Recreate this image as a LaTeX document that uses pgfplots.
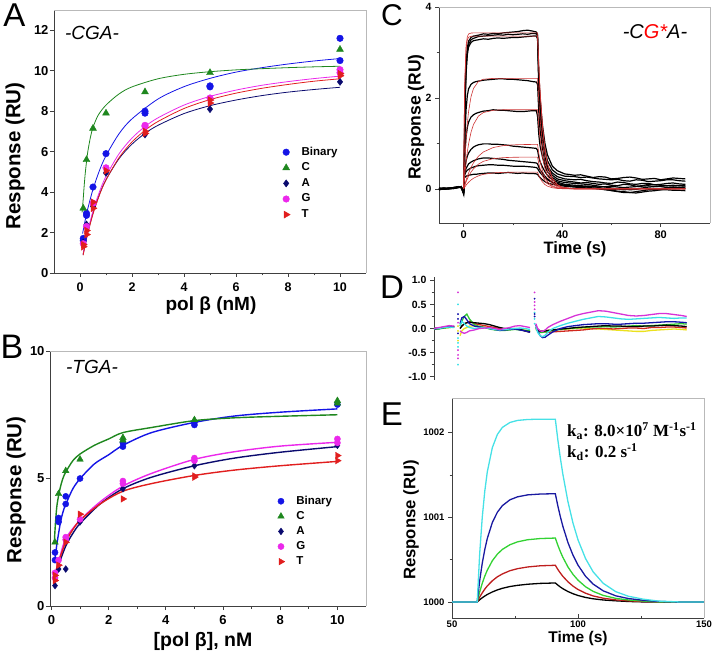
\documentclass[border=0pt]{standalone}
\usepackage{fontspec}
\setmainfont{Liberation Sans}
\newfontfamily\serifb{Liberation Serif}
\usepackage{pgfplots}
\usepackage{pgfplotstable}
\pgfplotsset{compat=1.18}
\definecolor{cBin}{RGB}{20,20,230}
\definecolor{cC}{RGB}{30,135,30}
\definecolor{cA}{RGB}{10,10,110}
\definecolor{cG}{RGB}{235,40,235}
\definecolor{cT}{RGB}{225,30,30}
\definecolor{fitred}{RGB}{205,50,50}
\definecolor{dMag}{RGB}{215,50,215}
\definecolor{dCya}{RGB}{60,225,230}
\definecolor{dBlu}{RGB}{20,20,170}
\definecolor{dGrn}{RGB}{50,200,50}
\definecolor{dRed}{RGB}{210,40,30}
\definecolor{dYel}{RGB}{235,225,30}
\definecolor{eCya}{RGB}{70,225,230}
\definecolor{eBlu}{RGB}{25,25,160}
\definecolor{eGrn}{RGB}{50,210,50}
\definecolor{eRed}{RGB}{190,30,30}
\definecolor{frm}{RGB}{185,185,185}

\pgfplotsset{
  panel/.style={scale only axis, axis x line*=bottom, axis y line*=left,
    tick align=outside, axis line style={black!75, line width=0.8pt},
    every tick/.style={black!75, line width=0.7pt},
    major tick length=4pt, minor tick length=2.5pt,
    /pgf/number format/assume math mode=true,
    /pgf/number format/1000 sep={},
    ticklabel style={font=\bfseries\fontsize{13}{13}\selectfont},
    anchor=south west, clip=false},
  legA/.style={legend cell align=left,
    legend style={draw=none, fill=none, row sep=3.6pt, inner xsep=3pt, inner ysep=2pt,
      font=\bfseries\fontsize{11.5}{13}\selectfont,
      /tikz/every odd column/.append style={column sep=11pt},
      nodes={inner sep=0.5pt, text height=8.5pt, text depth=2.5pt}}},
}

% ---------- Panel C black traces ----------
\pgfplotstableread{
t b1 b2 b3 b4 b5 b6 b7 b8 b9
-10 0.00 -0.02 0.01 0.00 -0.01 0.02 0.00 -0.02 0.01
-8 0.01 0.00 -0.01 0.02 0.00 0.01 -0.01 0.00 0.02
-6 0.02 0.01 0.00 0.01 0.02 0.00 0.01 0.01 0.00
-4 0.03 0.02 0.01 0.03 0.01 0.02 0.03 0.01 0.02
-2 0.05 0.04 0.03 0.05 0.04 0.03 0.05 0.04 0.03
-1 0.03 0.05 0.04 0.02 0.05 0.04 0.03 0.05 0.04
0 -0.10 -0.05 -0.12 -0.08 -0.05 -0.10 -0.06 -0.08 -0.04
0.3 1.00 0.90 0.80 0.60 0.45 0.32 0.30 0.28 0.24
0.6 2.10 1.95 1.80 1.25 0.85 0.48 0.38 0.33 0.26
1 2.75 2.65 2.55 1.75 1.15 0.62 0.45 0.38 0.28
1.5 3.10 3.02 2.95 2.05 1.35 0.72 0.50 0.41 0.29
2 3.25 3.18 3.12 2.20 1.47 0.79 0.55 0.43 0.30
3 3.33 3.28 3.22 2.30 1.58 0.87 0.59 0.46 0.31
4 3.36 3.31 3.26 2.34 1.63 0.92 0.62 0.48 0.32
5 3.37 3.33 3.27 2.36 1.66 0.95 0.64 0.50 0.32
6 3.38 3.35 3.28 2.37 1.68 0.97 0.66 0.51 0.33
8 3.41 3.36 3.30 2.39 1.71 0.99 0.68 0.52 0.34
10 3.40 3.37 3.29 2.40 1.72 0.99 0.68 0.53 0.35
12 3.42 3.38 3.31 2.41 1.74 0.98 0.67 0.53 0.35
14 3.41 3.39 3.32 2.42 1.73 0.98 0.66 0.52 0.34
16 3.43 3.38 3.31 2.42 1.73 0.97 0.65 0.52 0.35
18 3.44 3.40 3.32 2.41 1.72 0.96 0.63 0.51 0.36
20 3.45 3.39 3.33 2.41 1.71 0.94 0.62 0.50 0.35
22 3.46 3.40 3.33 2.40 1.70 0.93 0.61 0.50 0.34
24 3.48 3.41 3.34 2.39 1.70 0.92 0.60 0.50 0.35
26 3.49 3.40 3.35 2.38 1.71 0.91 0.59 0.49 0.34
28 3.47 3.42 3.36 2.36 1.72 0.90 0.58 0.48 0.34
29.5 3.45 3.41 3.36 2.35 1.72 0.89 0.57 0.47 0.33
30 3.40 3.38 3.30 2.30 1.60 0.85 0.55 0.45 0.32
30.5 2.60 2.40 2.20 1.70 1.20 0.70 0.48 0.40 0.28
31 2.00 1.80 1.60 1.30 0.95 0.60 0.42 0.36 0.25
32 1.40 1.20 1.00 0.90 0.70 0.48 0.35 0.30 0.20
33 1.00 0.85 0.70 0.60 0.50 0.38 0.28 0.24 0.16
34 0.75 0.62 0.50 0.45 0.38 0.30 0.22 0.20 0.13
36 0.50 0.42 0.35 0.30 0.25 0.20 0.15 0.14 0.10
38 0.40 0.33 0.27 0.22 0.18 0.15 0.12 0.10 0.08
41 0.33 0.28 0.22 0.18 0.14 0.10 0.08 0.07 0.06
45 0.30 0.27 0.20 0.15 0.12 0.08 0.06 0.05 0.04
47.5 0.31 0.25 0.21 0.13 0.11 0.07 0.05 0.04 0.03
50 0.28 0.26 0.18 0.14 0.10 0.06 0.04 0.06 0.02
52.5 0.25 0.24 0.16 0.12 0.08 0.05 0.02 0.05 0.01
55 0.27 0.22 0.15 0.10 0.06 0.03 0.00 0.04 0.00
57.5 0.26 0.21 0.13 0.11 0.04 -0.01 -0.02 0.05 -0.01
60 0.22 0.20 0.12 0.08 0.02 -0.04 -0.03 0.06 -0.02
62.5 0.23 0.21 0.15 0.07 0.00 -0.06 -0.05 0.04 0.00
65 0.25 0.18 0.14 0.10 -0.02 -0.08 -0.06 0.03 0.01
67.5 0.26 0.17 0.11 0.09 -0.01 -0.08 -0.08 0.04 -0.02
70 0.24 0.20 0.10 0.06 0.00 -0.06 -0.09 0.05 -0.01
72.5 0.21 0.19 0.12 0.07 0.02 -0.04 -0.07 0.06 0.01
75 0.22 0.16 0.12 0.10 0.04 -0.02 -0.05 0.07 0.00
77.5 0.23 0.17 0.09 0.09 0.05 -0.01 -0.04 0.05 -0.01
80 0.20 0.18 0.10 0.08 0.05 0.00 -0.02 0.06 -0.02
82.5 0.22 0.20 0.12 0.07 0.03 0.01 -0.02 0.07 0.01
85 0.24 0.20 0.13 0.06 0.02 0.03 -0.03 0.08 0.00
87.5 0.23 0.18 0.11 0.07 0.03 0.02 -0.03 0.07 0.01
90 0.22 0.17 0.10 0.08 0.04 0.00 -0.04 0.06 0.02
}\Ctab

% ---------- Panel C fits ----------
\pgfplotstableread{
t r1 r2 r3 r4 r5 r6 r7
0 0 0 0 0 0 0 0
0.25 1.595 1.562 0.338 0.173 0.052 0.042 0.022
0.5 2.446 2.396 0.629 0.329 0.102 0.082 0.043
1 3.149 3.084 1.096 0.597 0.194 0.155 0.082
1.5 3.348 3.279 1.441 0.813 0.275 0.219 0.116
2 3.406 3.336 1.699 0.988 0.349 0.275 0.145
3 3.427 3.357 2.029 1.246 0.473 0.370 0.195
4 3.43 3.36 2.209 1.416 0.573 0.442 0.234
6 3.43 3.36 2.364 1.601 0.718 0.544 0.287
8 3.43 3.36 2.411 1.679 0.811 0.606 0.320
12 3.43 3.36 2.43 1.729 0.910 0.665 0.352
16 3.43 3.36 2.43 1.74 0.951 0.687 0.363
20 3.43 3.36 2.43 1.74 0.968 0.695 0.367
25 3.43 3.36 2.43 1.74 0.976 0.699 0.369
30 3.43 3.36 2.43 1.74 0.979 0.70 0.37
30.5 2.740 2.685 1.942 1.390 0.782 0.559 0.296
31 2.188 2.144 1.550 1.110 0.625 0.447 0.236
32 1.396 1.368 0.989 0.708 0.398 0.285 0.151
33 0.888 0.870 0.629 0.451 0.254 0.181 0.096
34 0.566 0.554 0.401 0.287 0.162 0.116 0.061
36 0.230 0.225 0.163 0.117 0.066 0.047 0.025
38 0.093 0.091 0.066 0.047 0.026 0.019 0.010
40 0.038 0.037 0.027 0.019 0.011 0.008 0.004
45 0.003 0.003 0.002 0.002 0.001 0.001 0
50 0 0 0 0 0 0 0
90 0 0 0 0 0 0 0
}\Rtab

% ---------- Panel D residuals ----------
\pgfplotstableread{
t mag cya blu blk grn red yel
-10 0.00 -0.01 0.00 -0.02 0.01 0.00 -0.02
-8 0.02 0.00 0.01 0.00 -0.01 0.01 0.00
-6 0.04 0.02 0.03 0.02 0.01 0.02 0.01
-4 0.06 0.03 0.04 0.03 0.02 0.03 0.02
-2 0.05 0.02 0.03 0.04 0.03 0.04 0.03
-1.5 nan nan nan nan nan nan nan
0.3 -0.05 0.05 0.10 0.00 0.05 0.00 -0.15
1 -0.08 0.15 0.22 0.05 0.15 0.05 -0.05
2 -0.10 0.10 0.25 0.10 0.25 0.10 0.00
3 -0.08 0.05 0.18 0.12 0.30 0.12 0.02
4 -0.05 0.02 0.10 0.13 0.20 0.15 0.05
6 -0.03 0.00 0.05 0.12 0.08 0.10 0.05
8 0.00 0.01 0.03 0.11 0.04 0.08 0.04
10 0.01 0.02 0.02 0.10 0.02 0.06 0.03
12 0.02 0.00 0.00 0.08 -0.01 0.04 0.02
14 0.00 -0.02 -0.02 0.05 -0.03 0.02 0.00
16 -0.02 -0.03 -0.04 0.02 -0.04 0.00 -0.02
18 0.00 -0.02 -0.03 0.00 -0.04 -0.02 -0.03
20 0.02 -0.01 -0.02 0.00 -0.03 -0.01 -0.02
22 0.05 0.00 -0.01 -0.01 -0.02 0.00 -0.01
24 0.06 0.01 -0.03 -0.02 -0.03 -0.02 -0.02
26 0.04 0.00 -0.05 -0.05 -0.04 -0.05 -0.03
28 0.02 -0.02 -0.08 -0.07 -0.05 -0.08 -0.05
28.5 nan nan nan nan nan nan nan
30.3 0.10 0.05 0.08 0.02 0.00 0.03 -0.02
31 0.00 -0.08 -0.05 -0.03 -0.05 -0.02 -0.05
32 -0.05 -0.15 -0.15 -0.06 -0.08 -0.05 -0.06
33 -0.06 -0.17 -0.19 -0.06 -0.08 -0.06 -0.06
34 -0.03 -0.14 -0.18 -0.05 -0.07 -0.07 -0.05
35 0.02 -0.08 -0.14 -0.04 -0.06 -0.08 -0.04
37 0.08 0.00 -0.07 -0.03 -0.04 -0.07 -0.03
40 0.15 0.06 0.00 -0.01 -0.02 -0.06 -0.02
43 0.21 0.11 0.04 0.00 0.00 -0.05 -0.01
46 0.27 0.15 0.06 0.02 0.01 -0.04 0.00
49 0.31 0.19 0.08 0.03 0.02 -0.03 0.01
52 0.34 0.22 0.09 0.04 0.03 -0.01 0.00
55 0.37 0.25 0.10 0.05 0.03 0.00 -0.01
58 0.36 0.24 0.10 0.06 0.04 0.00 -0.02
61 0.33 0.22 0.09 0.05 0.03 -0.01 -0.03
64 0.30 0.20 0.09 0.05 0.04 0.00 -0.04
67 0.27 0.19 0.10 0.04 0.05 0.01 -0.05
70 0.26 0.20 0.11 0.04 0.06 0.01 -0.06
73 0.27 0.21 0.11 0.05 0.05 0.00 -0.06
76 0.29 0.22 0.12 0.05 0.06 0.02 -0.04
79 0.31 0.23 0.13 0.06 0.07 0.02 -0.03
82 0.31 0.22 0.14 0.07 0.08 0.03 -0.02
85 0.29 0.21 0.14 0.06 0.09 0.03 -0.01
88 0.27 0.22 0.13 0.05 0.10 0.02 -0.02
90 0.25 0.22 0.12 0.04 0.09 0.01 -0.03
}\Dtab

% ---------- Panel E simulated curves ----------
\pgfplotstableread{
t bk rd gr bl cy
50 1000 1000 1000 1000 1000
60 1000 1000 1000 1000 1000
61 1000.026 1000.058 1000.119 1000.253 1000.577
62 1000.049 1000.107 1000.219 1000.456 1000.998
63 1000.069 1000.151 1000.304 1000.618 1001.307
64 1000.088 1000.189 1000.375 1000.749 1001.536
66 1000.118 1000.250 1000.486 1000.938 1001.823
68 1000.142 1000.297 1000.565 1001.060 1001.979
70 1000.161 1000.331 1000.621 1001.138 1002.063
73 1000.182 1000.369 1000.676 1001.207 1002.121
76 1000.196 1000.393 1000.710 1001.242 1002.145
80 1000.209 1000.413 1000.735 1001.265 1002.156
85 1000.219 1000.427 1000.749 1001.275 1002.160
91 1000.224 1000.433 1000.755 1001.279 1002.160
92 1000.199 1000.384 1000.670 1001.135 1001.916
93 1000.176 1000.341 1000.594 1001.007 1001.700
94 1000.156 1000.302 1000.527 1000.893 1001.508
96 1000.123 1000.238 1000.414 1000.703 1001.186
98 1000.097 1000.187 1000.326 1000.553 1000.933
100 1000.076 1000.147 1000.257 1000.435 1000.734
103 1000.053 1000.103 1000.179 1000.303 1000.512
106 1000.037 1000.071 1000.125 1000.211 1000.356
110 1000.023 1000.044 1000.077 1000.131 1000.220
115 1000.013 1000.024 1000.042 1000.072 1000.121
120 1000.005 1000.013 1000.023 1000.040 1000.067
126 1000 1000.004 1000.010 1000.019 1000.032
132 1000 1000 1000 1000.005 1000.010
140 1000 1000 1000 1000 1000
150 1000 1000 1000 1000 1000
}\Etab

\begin{document}
\begin{tikzpicture}[x=1pt,y=1pt]
\useasboundingbox (0pt,0pt) rectangle (713pt,-655pt);

% ================= A =================
\begin{axis}[panel, legA, name=axA, at={(54pt,-273pt)}, width=312pt, height=263pt,
  xmin=-1, xmax=11, ymin=0, ymax=13,
  xtick={0,2,4,6,8,10}, minor xtick={1,3,5,7,9},
  ytick={0,2,4,6,8,10,12},
  xticklabel style={yshift=-2pt, font=\bfseries\fontsize{12.5}{12.5}\selectfont},
  yticklabel style={xshift=2pt},
  legend style={at={(0.7228,0.4905)}, anchor=north west}]
\addplot[cBin, line width=0.8pt, smooth, forget plot] coordinates {(0.1,1.95)(0.2,2.61)(0.3,3.18)(0.5,4.14)(0.75,5.07)(1,5.80)(1.5,6.88)(2,7.62)(3,8.60)(4,9.21)(5,9.62)(6,9.93)(7,10.15)(8,10.33)(9,10.48)(10,10.60)};
\addplot[cC, line width=0.8pt, smooth, forget plot] coordinates {(0.08,3.0)(0.12,3.6)(0.16,4.3)(0.2,4.9)(0.25,5.5)(0.3,6.0)(0.4,6.7)(0.5,7.2)(0.7,7.8)(1,8.3)(1.5,8.85)(2,9.2)(3,9.6)(4,9.82)(5,9.95)(6,10.04)(7,10.1)(8,10.15)(9,10.19)(10,10.22)};
\addplot[cA, line width=0.8pt, smooth, forget plot] coordinates {(0.12,0.91)(0.2,1.43)(0.3,2.01)(0.5,2.97)(0.75,3.89)(1,4.61)(1.5,5.65)(2,6.37)(2.5,6.90)(3,7.30)(4,7.88)(5,8.27)(6,8.55)(7,8.77)(8,8.94)(9,9.07)(10,9.18)};
\addplot[cG, line width=0.8pt, smooth, forget plot] coordinates {(0.12,0.93)(0.2,1.47)(0.3,2.06)(0.5,3.06)(0.75,4.02)(1,4.78)(1.5,5.89)(2,6.67)(2.5,7.24)(3,7.67)(4,8.30)(5,8.73)(6,9.04)(7,9.28)(8,9.46)(9,9.61)(10,9.73)};
\addplot[cT, line width=0.8pt, smooth, forget plot] coordinates {(0.12,0.88)(0.2,1.39)(0.3,1.96)(0.5,2.91)(0.75,3.86)(1,4.60)(1.5,5.70)(2,6.48)(2.5,7.05)(3,7.49)(4,8.13)(5,8.57)(6,8.89)(7,9.13)(8,9.32)(9,9.48)(10,9.60)};
\addplot[only marks, mark=*, mark size=3.3pt, cBin] coordinates {(0.125,1.71)(0.125,1.6)(0.25,2.85)(0.25,2.95)(0.5,4.25)(1,5.9)(2.5,7.9)(2.5,8.0)(5,9.2)(5,9.25)(10,11.6)(10,10.5)};
\addplot[only marks, mark=triangle*, mark size=4pt, cC] coordinates {(0.125,3.2)(0.25,5.6)(0.5,7.15)(1,7.9)(2.5,8.95)(5,9.9)(10,11.05)};
\addplot[only marks, mark=diamond*, mark size=3.6pt, cA] coordinates {(0.125,1.5)(0.25,2.4)(0.5,3.3)(1,4.95)(2.5,6.85)(5,8.1)(10,9.45)};
\addplot[only marks, mark=*, mark size=3.3pt, cG] coordinates {(0.125,1.45)(0.25,2.3)(0.5,3.45)(1,5.2)(2.5,7.25)(2.5,7.3)(5,8.65)(10,10.05)(10,9.9)};
\addplot[only marks, mark=triangle*, mark size=4pt, mark options={rotate=-90}, cT] coordinates {(0.125,1.3)(0.125,1.4)(0.25,1.9)(0.25,2.1)(0.5,3.2)(0.5,3.5)(1,5.05)(2.5,7.0)(2.5,6.9)(5,8.4)(5,8.55)(10,9.75)(10,9.85)};
\legend{Binary,C,A,G,T}
\end{axis}
\draw[frm, line width=0.7pt] (axA.north west) -- (axA.north east) -- (axA.south east);

% ================= B =================
\begin{axis}[panel, legA, name=axB, at={(50pt,-606pt)}, width=316pt, height=255pt,
  xmin=-0.05, xmax=11, ymin=0, ymax=10,
  xtick={0,2,4,6,8,10}, minor xtick={1,3,5,7,9},
  ytick={0,5,10},
  xticklabel style={yshift=-2pt},
  yticklabel style={xshift=2pt},
  legend style={at={(0.7104,0.443)}, anchor=north west, row sep=3.1pt}]
\addplot[cBin, line width=1.4pt, smooth, forget plot] coordinates {(0.12,1.85)(0.15,2.05)(0.2,2.5)(0.33,3.36)(0.45,3.85)(0.56,4.14)(0.75,4.6)(1,4.99)(1.5,5.57)(2,5.93)(2.5,6.3)(3.5,6.8)(5,7.2)(6.4,7.45)(8,7.6)(10,7.73)};
\addplot[cC, line width=1.4pt, smooth, forget plot] coordinates {(0.1,2.5)(0.15,3.4)(0.2,4.0)(0.3,4.6)(0.4,5.0)(0.5,5.25)(0.75,5.7)(1,5.96)(1.5,6.3)(2,6.55)(2.5,6.8)(3.5,7.0)(5,7.27)(6.4,7.38)(8,7.44)(10,7.5)};
\addplot[cA, line width=1.4pt, smooth, forget plot] coordinates {(0.12,1.1)(0.25,1.6)(0.5,2.35)(0.75,2.85)(1,3.23)(1.7,4.0)(2.5,4.6)(3.5,5.05)(5,5.5)(6.4,5.8)(8,6.03)(10,6.25)};
\addplot[cG, line width=1.4pt, smooth, forget plot] coordinates {(0.12,1.2)(0.27,1.8)(0.5,2.64)(1,3.36)(1.7,4.08)(2.5,4.7)(3.5,5.2)(5,5.75)(6.4,6.05)(8,6.27)(10,6.42)};
\addplot[cT, line width=1.4pt, smooth, forget plot] coordinates {(0.12,1.2)(0.27,1.8)(0.5,2.5)(0.75,3.0)(1,3.36)(1.7,4.0)(2.5,4.5)(3.5,4.8)(5,5.12)(6.4,5.33)(8,5.5)(10,5.67)};
\addplot[only marks, mark=*, mark size=3.1pt, cBin] coordinates {(0.125,2.1)(0.125,1.8)(0.25,3.3)(0.25,3.45)(0.5,4.3)(0.5,4.0)(1,5.0)(2.5,6.4)(2.5,6.25)(5,7.1)(5,7.2)(10,7.9)};
\addplot[only marks, mark=triangle*, mark size=3.8pt, cC] coordinates {(0.125,2.5)(0.25,4.4)(0.5,5.3)(1,5.75)(2.5,6.6)(2.5,6.5)(5,7.3)(10,8.05)(10,7.95)};
\addplot[only marks, mark=diamond*, mark size=3.4pt, cA] coordinates {(0.125,0.8)(0.25,1.45)(0.5,1.45)(1,3.3)(2.5,4.6)(5,5.5)(10,6.3)};
\addplot[only marks, mark=*, mark size=3.1pt, cG] coordinates {(0.125,1.1)(0.125,1.3)(0.25,1.8)(0.5,2.7)(0.5,2.6)(1,3.4)(2.5,4.8)(2.5,4.9)(5,5.8)(5,5.7)(10,6.55)(10,6.4)};
\addplot[only marks, mark=triangle*, mark size=3.8pt, mark options={rotate=-90}, cT] coordinates {(0.125,1.2)(0.125,1.0)(0.25,1.6)(0.5,2.5)(1,3.6)(2.5,4.2)(5,5.1)(5,5.05)(10,5.9)(10,5.7)};
\legend{Binary,C,A,G,T}
\end{axis}
\draw[frm, line width=0.7pt] (axB.north west) -- (axB.north east) -- (axB.south east);

% ================= C =================
\begin{axis}[panel, name=axC, at={(439pt,-223pt)}, width=271pt, height=216pt,
  xmin=-10, xmax=100, ymin=-0.75, ymax=4,
  xtick={0,40,80}, minor xtick={20,60},
  ytick={0,2,4}, minor ytick={1,3},
  xticklabel style={font=\bfseries\fontsize{11}{11}\selectfont},
  yticklabel style={font=\bfseries\fontsize{10.5}{10}\selectfont}]
\pgfplotsinvokeforeach{b1,b2,b3,b4,b5,b6,b7,b8,b9}{
  \addplot[black, line width=1.2pt] table[x=t, y=#1] {\Ctab};
}
\pgfplotsinvokeforeach{r1,r2,r3,r4,r5,r6,r7}{
  \addplot[fitred, line width=0.6pt] table[x=t, y=#1] {\Rtab};
}
\end{axis}
\draw[frm, line width=0.7pt] (axC.north west) -- (axC.north east) -- (axC.south east);

% ================= D =================
\begin{axis}[panel, name=axD, at={(434pt,-380pt)}, width=278pt, height=103pt,
  axis x line=none,
  xmin=-10, xmax=100, ymin=-1.07, ymax=1.07,
  ytick={-1,-0.5,0,0.5,1}, minor ytick={-0.75,-0.25,0.25,0.75},
  unbounded coords=jump,
  yticklabel style={font=\bfseries\fontsize{10.5}{10}\selectfont,
    /pgf/number format/.cd, fixed, fixed zerofill, precision=1}]
\addplot[dYel, line width=1.3pt] table[x=t, y=yel] {\Dtab};
\addplot[dRed, line width=1.3pt] table[x=t, y=red] {\Dtab};
\addplot[dGrn, line width=1.3pt] table[x=t, y=grn] {\Dtab};
\addplot[black, line width=1.3pt] table[x=t, y=blk] {\Dtab};
\addplot[dBlu, line width=1.3pt] table[x=t, y=blu] {\Dtab};
\addplot[dCya, line width=1.3pt] table[x=t, y=cya] {\Dtab};
\addplot[dMag, line width=1.3pt] table[x=t, y=mag] {\Dtab};
\addplot[only marks, mark=*, mark size=0.7pt, dMag] coordinates {(-0.5,0.75)(-0.5,-0.45)(-0.5,-0.62)(-0.5,0.12)(-0.5,-0.55)(29.8,0.75)(29.8,0.4)(29.8,0.55)(29.8,0.48)};
\addplot[only marks, mark=*, mark size=0.7pt, dCya] coordinates {(-0.5,0.5)(-0.5,-0.75)(-0.5,-0.3)(-0.5,-0.2)(-0.5,-0.38)(29.8,0.2)(29.8,0.1)(29.8,0.33)};
\addplot[only marks, mark=*, mark size=0.7pt, dBlu] coordinates {(-0.5,0.3)(-0.5,-0.1)(-0.5,0.2)(29.8,0.3)(29.8,0.62)(29.8,0.25)};
\addplot[only marks, mark=*, mark size=0.7pt, dYel] coordinates {(-0.5,-0.05)(-0.5,0.05)(-0.5,-0.25)};
\end{axis}

% ================= E =================
\begin{axis}[panel, name=axE, at={(452pt,-618pt)}, width=252pt, height=220pt,
  xmin=50, xmax=150, ymin=999.81, ymax=1002.41,
  xtick align=inside,
  xtick={50,100,150}, minor xtick={75,125},
  ytick={1000,1001,1002}, minor ytick={1000.5,1001.5},
  ticklabel style={font=\bfseries\fontsize{9.5}{10}\selectfont},
  xticklabel style={yshift=1pt}]
\addplot[black, line width=1.3pt] table[x=t, y=bk] {\Etab};
\addplot[eRed, line width=1.3pt] table[x=t, y=rd] {\Etab};
\addplot[eGrn, line width=1.3pt] table[x=t, y=gr] {\Etab};
\addplot[eBlu, line width=1.3pt] table[x=t, y=bl] {\Etab};
\addplot[eCya, line width=1.3pt] table[x=t, y=cy] {\Etab};
\end{axis}
\draw[frm, line width=0.7pt] (axE.north west) -- (axE.north east) -- (axE.south east);

% ================= labels =================
\node[font=\fontsize{33}{33}\selectfont, inner sep=0pt] at (14.5,-15) {A};
\node[font=\fontsize{34}{34}\selectfont, inner sep=0pt] at (12,-347) {B};
\node[font=\fontsize{30}{30}\selectfont] at (392,-15) {C};
\node[font=\fontsize{33}{33}\selectfont] at (392,-287) {D};
\node[font=\fontsize{33}{33}\selectfont] at (392,-414) {E};

\node[rotate=90, font=\bfseries\fontsize{20.5}{20}\selectfont] at (15,-156) {Response (RU)};
\node[font=\bfseries\fontsize{19}{20}\selectfont] at (211,-305.5) {pol β (nM)};
\node[font=\itshape\fontsize{19}{19}\selectfont] at (92,-33) {-CGA-};

\node[rotate=90, font=\bfseries\fontsize{20.5}{20}\selectfont] at (16,-490) {Response (RU)};
\node[font=\bfseries\fontsize{19.5}{20}\selectfont] at (203,-641) {[pol β], nM};
\node[font=\itshape\fontsize{19}{19}\selectfont] at (92,-367) {-TGA-};

\node[rotate=90, font=\bfseries\fontsize{17.5}{18}\selectfont] at (416,-117) {Response (RU)};
\node[font=\bfseries\fontsize{16.5}{17}\selectfont] at (575,-249) {Time (s)};
\node[font=\itshape\fontsize{20}{20}\selectfont] at (655,-32) {-C\textcolor{red}{G*}A-};

\node[rotate=90, font=\bfseries\fontsize{16.7}{17}\selectfont] at (411,-520) {Response (RU)};
\node[font=\bfseries\fontsize{15.5}{16}\selectfont] at (578,-638) {Time (s)};
\node[anchor=west, font=\serifb\bfseries\fontsize{17}{17}\selectfont, inner sep=0pt] at (567,-431) {k\textsubscript{a}: 8.0×10\textsuperscript{7} M\textsuperscript{-1}s\textsuperscript{-1}};
\node[anchor=west, font=\serifb\bfseries\fontsize{17}{17}\selectfont, inner sep=0pt] at (567,-452) {k\textsubscript{d}: 0.2 s\textsuperscript{-1}};
\end{tikzpicture}
\end{document}
